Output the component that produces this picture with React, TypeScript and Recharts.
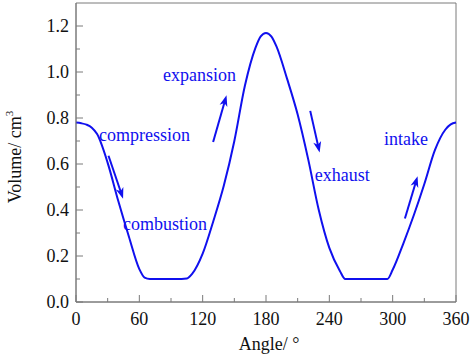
import React from "react";
import { LineChart, Line, XAxis, YAxis, ReferenceArea, ReferenceDot, ReferenceLine } from "recharts";

const angles = [0, 5, 10, 15, 20, 30, 40, 50, 60, 65, 70, 100, 105, 110, 120, 130, 140, 150, 160, 170, 175, 180, 185, 190, 200, 210, 220, 230, 240, 250, 255, 295, 300, 310, 320, 330, 340, 350, 355, 360];
const volumes = [0.78, 0.777, 0.771, 0.758, 0.73, 0.605, 0.44, 0.286, 0.143, 0.106, 0.1, 0.1, 0.102, 0.122, 0.21, 0.35, 0.505, 0.7, 0.94, 1.105, 1.155, 1.17, 1.155, 1.11, 0.97, 0.815, 0.62, 0.4, 0.235, 0.135, 0.1, 0.1, 0.14, 0.253, 0.377, 0.513, 0.66, 0.75, 0.772, 0.78];

const xTicks = [0, 30, 60, 90, 120, 150, 180, 210, 240, 270, 300, 330, 360];
const yTicks = [0, 0.1, 0.2, 0.3, 0.4, 0.5, 0.6, 0.7, 0.8, 0.9, 1.0, 1.1, 1.2];

const labelTexts = ["compression", "combustion", "expansion", "exhaust", "intake"];
const labelAngles = [21.8, 44.5, 82.5, 226.3, 291.7];
const labelValues = [0.70, 0.312, 0.96, 0.525, 0.682];

const arrowTails = [
  { x: 30.8, y: 0.636 },
  { x: 129.9, y: 0.696 },
  { x: 221.9, y: 0.831 },
  { x: 311.6, y: 0.363 },
];
const arrowHeads = [
  { x: 44.6, y: 0.449 },
  { x: 142.6, y: 0.899 },
  { x: 230.8, y: 0.65 },
  { x: 323.6, y: 0.547 },
];

const data = angles.map((a, i) => ({ angle: a, volume: volumes[i] }));

const BLUE = "#1010ee";
const AXIS = "#7a7a7a";
const FONT = "'Liberation Serif', 'Times New Roman', serif";

const YTick = (p: any) => {
  const v = p.payload.value;
  const major = Math.round(v * 10) % 2 === 0;
  return (
    <g>
      <line x1={p.x} y1={p.y} x2={p.x + (major ? 7 : 4)} y2={p.y} stroke={AXIS} strokeWidth={1} />
      {major && (
        <text x={p.x - 7} y={p.y} dy="0.36em" textAnchor="end" fontFamily={FONT} fontSize={18} fill="#111">
          {v.toFixed(1)}
        </text>
      )}
    </g>
  );
};

const XTick = (p: any) => {
  const v = p.payload.value;
  const major = v % 60 === 0;
  return (
    <g>
      <line x1={p.x} y1={p.y} x2={p.x} y2={p.y - (major ? 7 : 4)} stroke={AXIS} strokeWidth={1} />
      {major && (
        <text x={p.x} y={p.y + 23} textAnchor="middle" fontFamily={FONT} fontSize={18} fill="#111">
          {v}
        </text>
      )}
    </g>
  );
};

const arrowShape = (p: any) => {
  const { x1, y1, x2, y2 } = p;
  const dx = x2 - x1;
  const dy = y2 - y1;
  const len = Math.sqrt(dx * dx + dy * dy);
  const ux = dx / len;
  const uy = dy / len;
  const hl = 11;
  const hw = 4;
  const bx = x2 - ux * hl;
  const by = y2 - uy * hl;
  const px = -uy;
  const py = ux;
  const pts = `${x2},${y2} ${bx + px * hw},${by + py * hw} ${x2 - ux * (hl - 3)},${y2 - uy * (hl - 3)} ${bx - px * hw},${by - py * hw}`;
  return (
    <g>
      <line x1={x1} y1={y1} x2={x2 - ux * 6} y2={y2 - uy * 6} stroke={BLUE} strokeWidth={2} />
      <polygon points={pts} fill={BLUE} />
    </g>
  );
};

export default function App() {
  return (
    <div style={{ position: "absolute", left: 0, top: 0, background: "#fff" }}>
      <LineChart width={474} height={358} data={data} margin={{ top: 3, right: 18, left: 0, bottom: 0 }}>
        <XAxis
          dataKey="angle"
          type="number"
          domain={[0, 360]}
          ticks={xTicks}
          interval={0}
          tickSize={0}
          tickMargin={0}
          tickLine={false}
          height={56}
          axisLine={{ stroke: AXIS }}
          tick={<XTick />}
          label={{
            content: (lp: any) => {
              const vb = lp.viewBox;
              return (
                <text x={vb.x + vb.width / 2 + 3} y={350} textAnchor="middle" fontFamily={FONT} fontSize={18} fill="#111">
                  Angle/ °
                </text>
              );
            },
          }}
        />
        <YAxis
          type="number"
          domain={[0, 1.3]}
          ticks={yTicks}
          interval={0}
          width={76}
          tickSize={0}
          tickMargin={0}
          tickLine={false}
          axisLine={{ stroke: AXIS }}
          tick={<YTick />}
          label={{
            content: () => (
              <text transform="translate(21,157) rotate(-90)" textAnchor="middle" fontFamily={FONT} fontSize={18} fill="#111">
                Volume/ cm<tspan dy={-8} fontSize={11}>3</tspan>
              </text>
            ),
          }}
        />
        <ReferenceArea x1={0} x2={360} y1={0} y2={1.3} fill="none" stroke={AXIS} strokeWidth={1} ifOverflow="visible" />
        <Line
          type="monotone"
          dataKey="volume"
          stroke={BLUE}
          strokeWidth={2}
          dot={false}
          activeDot={false}
          isAnimationActive={false}
        />
        {labelTexts.map((t, i) => (
          <ReferenceDot
            key={t}
            x={labelAngles[i]}
            y={labelValues[i]}
            r={0}
            shape={(p: any) => (
              <text x={p.cx} y={p.cy} textAnchor="start" fontFamily={FONT} fontSize={18} fill={BLUE}>
                {t}
              </text>
            )}
          />
        ))}
        {arrowTails.map((tl, i) => (
          <ReferenceLine
            key={i}
            segment={[tl, arrowHeads[i]]}
            shape={arrowShape}
          />
        ))}
      </LineChart>
    </div>
  );
}
